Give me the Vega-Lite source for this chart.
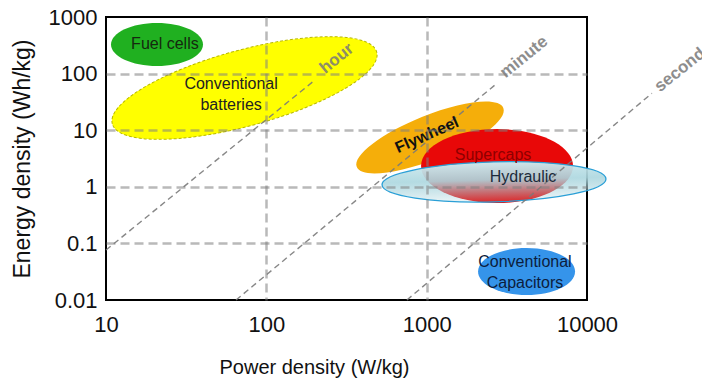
{
  "$schema": "https://vega.github.io/schema/vega-lite/v6.json",
  "width": 481,
  "height": 283,
  "autosize": {"type": "none"},
  "padding": {"left": 106, "top": 17, "right": 115, "bottom": 83},
  "background": "white",
  "config": {
    "font": "Liberation Sans",
    "view": {"stroke": "black", "strokeWidth": 2},
    "axis": {"labelColor": "#111111", "titleColor": "#111111", "titleFontWeight": "normal", "labelFont": "Liberation Sans", "titleFont": "Liberation Sans"}
  },
  "datasets": {
    "shapes": [
      {"name": "Fuel cells", "P": 20.8, "E": 326},
      {"name": "Conventional batteries", "P": 73.1, "E": 55.7},
      {"name": "Flywheel", "P": 1050, "E": 7.43},
      {"name": "Supercaps", "P": 2748, "E": 2.33},
      {"name": "Hydraulic", "P": 2630, "E": 1.22},
      {"name": "Conventional Capacitors", "P": 4198, "E": 0.0319}
    ],
    "labels": [
      {"label": "Fuel cells", "P": 23.3, "E": 333},
      {"label": "Conventional\nbatteries", "P": 60.3, "E": 65.5},
      {"label": "Supercaps", "P": 2594, "E": 3.65},
      {"label": "Hydraulic", "P": 3990, "E": 1.49},
      {"label": "Conventional\nCapacitors", "P": 4103, "E": 0.0469}
    ],
    "flywheel": [
      {"label": "Flywheel", "P": 1004, "E": 8.22}
    ],
    "lines": [
      {"s": "hour", "P": 10, "E": 0.0764},
      {"s": "hour", "P": 201, "E": 77},
      {"s": "minute", "P": 64.7, "E": 0.01},
      {"s": "minute", "P": 2667, "E": 63},
      {"s": "second", "P": 753, "E": 0.01},
      {"s": "second", "P": 25400, "E": 45}
    ],
    "times": [
      {"t": "hour", "P": 275, "E": 185},
      {"t": "minute", "P": 4046, "E": 196},
      {"t": "second", "P": 38000, "E": 116}
    ]
  },
  "encoding": {
    "x": {
      "field": "P", "type": "quantitative",
      "scale": {"type": "log", "domain": [10, 10000], "nice": false},
      "axis": {
        "values": [10, 100, 1000, 10000], "format": "~g",
        "title": "Power density (W/kg)",
        "labelFontSize": 22, "titleFontSize": 20, "labelPadding": 14,
        "ticks": false, "domain": false, "grid": true,
        "gridColor": "#7f7f7f",
        "gridOpacity": {"condition": {"test": "datum.value == 10 || datum.value == 10000", "value": 0}, "value": 0.55},
        "gridDash": [9, 5], "gridWidth": 2.5,
        "labelFlush": false, "labelOverlap": false, "labelBound": false,
        "titleX": 208, "titleY": 73, "titleAlign": "center", "titleBaseline": "alphabetic",
        "zindex": 1
      }
    },
    "y": {
      "field": "E", "type": "quantitative",
      "scale": {"type": "log", "domain": [0.01, 1000], "nice": false},
      "axis": {
        "values": [0.01, 0.1, 1, 10, 100, 1000], "format": "~g",
        "title": "Energy density (Wh/kg)",
        "labelFontSize": 22, "titleFontSize": 23, "labelPadding": 9,
        "ticks": false, "domain": false, "grid": true,
        "gridColor": "#7f7f7f",
        "gridOpacity": {"condition": {"test": "datum.value <= 0.011 || datum.value >= 999", "value": 0}, "value": 0.55},
        "gridDash": [9, 5], "gridWidth": 2.5,
        "labelFlush": false, "labelOverlap": false, "labelBound": false,
        "titleX": -84, "titleY": 141.5, "titleAngle": 270, "titleAlign": "center", "titleBaseline": "middle",
        "zindex": 1
      }
    }
  },
  "layer": [
    {
      "data": {"name": "shapes"},
      "transform": [{"filter": "datum.name == 'Fuel cells'"}],
      "mark": {"type": "point", "filled": true, "size": 4, "opacity": 1, "fill": "#20b020", "strokeWidth": 0,
        "shape": "M -46 0 C -46 -11.87 -25.4 -21.5 0 -21.5 C 25.4 -21.5 46 -11.87 46 0 C 46 11.87 25.4 21.5 0 21.5 C -25.4 21.5 -46 11.87 -46 0 Z"}
    },
    {
      "data": {"name": "shapes"},
      "transform": [{"filter": "datum.name == 'Conventional batteries'"}],
      "mark": {"type": "point", "filled": true, "size": 4, "opacity": 1, "fill": "#ffff00", "stroke": "#b8b800", "strokeWidth": 1, "strokeDash": [3, 2], "angle": 344.8,
        "shape": "M -137 0 C -137 -20.99 -75.67 -38 0 -38 C 75.67 -38 137 -20.99 137 0 C 137 20.99 75.67 38 0 38 C -75.67 38 -137 20.99 -137 0 Z"}
    },
    {
      "data": {"name": "shapes"},
      "transform": [{"filter": "datum.name == 'Flywheel'"}],
      "mark": {"type": "point", "filled": true, "size": 4, "opacity": 1, "fill": "#f5ae0a", "strokeWidth": 0, "angle": 338,
        "shape": "M -79 0 C -79 -12.15 -43.63 -22 0 -22 C 43.63 -22 79 -12.15 79 0 C 79 12.15 43.63 22 0 22 C -43.63 22 -79 12.15 -79 0 Z"}
    },
    {
      "data": {"name": "shapes"},
      "transform": [{"filter": "datum.name == 'Supercaps'"}],
      "mark": {"type": "point", "filled": true, "size": 4, "opacity": 1, "fill": "#e80808", "strokeWidth": 0,
        "shape": "M -76 0 C -76 -20.44 -41.97 -37 0 -37 C 41.97 -37 76 -20.44 76 0 C 76 20.44 41.97 37 0 37 C -41.97 37 -76 20.44 -76 0 Z"}
    },
    {
      "data": {"name": "shapes"},
      "transform": [{"filter": "datum.name == 'Hydraulic'"}],
      "mark": {"type": "point", "filled": true, "size": 4, "opacity": 1,
        "fill": {"gradient": "linear", "x1": 0, "y1": 0, "x2": 0, "y2": 1,
          "stops": [
            {"offset": 0, "color": "rgba(208,234,239,0.98)"},
            {"offset": 0.45, "color": "rgba(172,215,223,0.9)"},
            {"offset": 1, "color": "rgba(160,206,216,0.18)"}
          ]},
        "stroke": "#2a9fd6", "strokeWidth": 1.3, "angle": 358.5,
        "shape": "M -112 0 C -112 -11.05 -61.86 -20 0 -20 C 61.86 -20 112 -11.05 112 0 C 112 11.05 61.86 20 0 20 C -61.86 20 -112 11.05 -112 0 Z"}
    },
    {
      "data": {"name": "shapes"},
      "transform": [{"filter": "datum.name == 'Conventional Capacitors'"}],
      "mark": {"type": "point", "filled": true, "size": 4, "opacity": 1, "fill": "#3594ea", "strokeWidth": 0,
        "shape": "M -48.5 0 C -48.5 -12.98 -26.79 -23.5 0 -23.5 C 26.79 -23.5 48.5 -12.98 48.5 0 C 48.5 12.98 26.79 23.5 0 23.5 C -26.79 23.5 -48.5 12.98 -48.5 0 Z"}
    },
    {
      "data": {"name": "lines"},
      "mark": {"type": "line", "stroke": "#7a7a7a", "strokeWidth": 1.4, "strokeDash": [6, 4], "opacity": 0.9, "clip": false},
      "encoding": {"detail": {"field": "s"}}
    },
    {
      "data": {"name": "labels"},
      "mark": {"type": "text", "fontSize": 16, "lineBreak": "\n", "lineHeight": 20.5, "align": "center", "baseline": "middle"},
      "encoding": {
        "text": {"field": "label"},
        "color": {"field": "label", "type": "nominal", "legend": null,
          "scale": {"domain": ["Fuel cells", "Conventional\nbatteries", "Supercaps", "Hydraulic", "Conventional\nCapacitors"],
                    "range": ["#15280f", "#222222", "#8e0000", "#1b2b3b", "#0c1d3d"]}}
      }
    },
    {
      "data": {"name": "flywheel"},
      "mark": {"type": "text", "fontSize": 16, "fontWeight": "bold", "angle": 336, "align": "center", "baseline": "middle", "color": "#111111"},
      "encoding": {"text": {"field": "label"}}
    },
    {
      "data": {"name": "times"},
      "mark": {"type": "text", "fontSize": 17, "fontWeight": "bold", "angle": 321, "align": "center", "baseline": "middle", "color": "#7a7a7a", "opacity": 0.85},
      "encoding": {"text": {"field": "t"}}
    }
  ]
}
